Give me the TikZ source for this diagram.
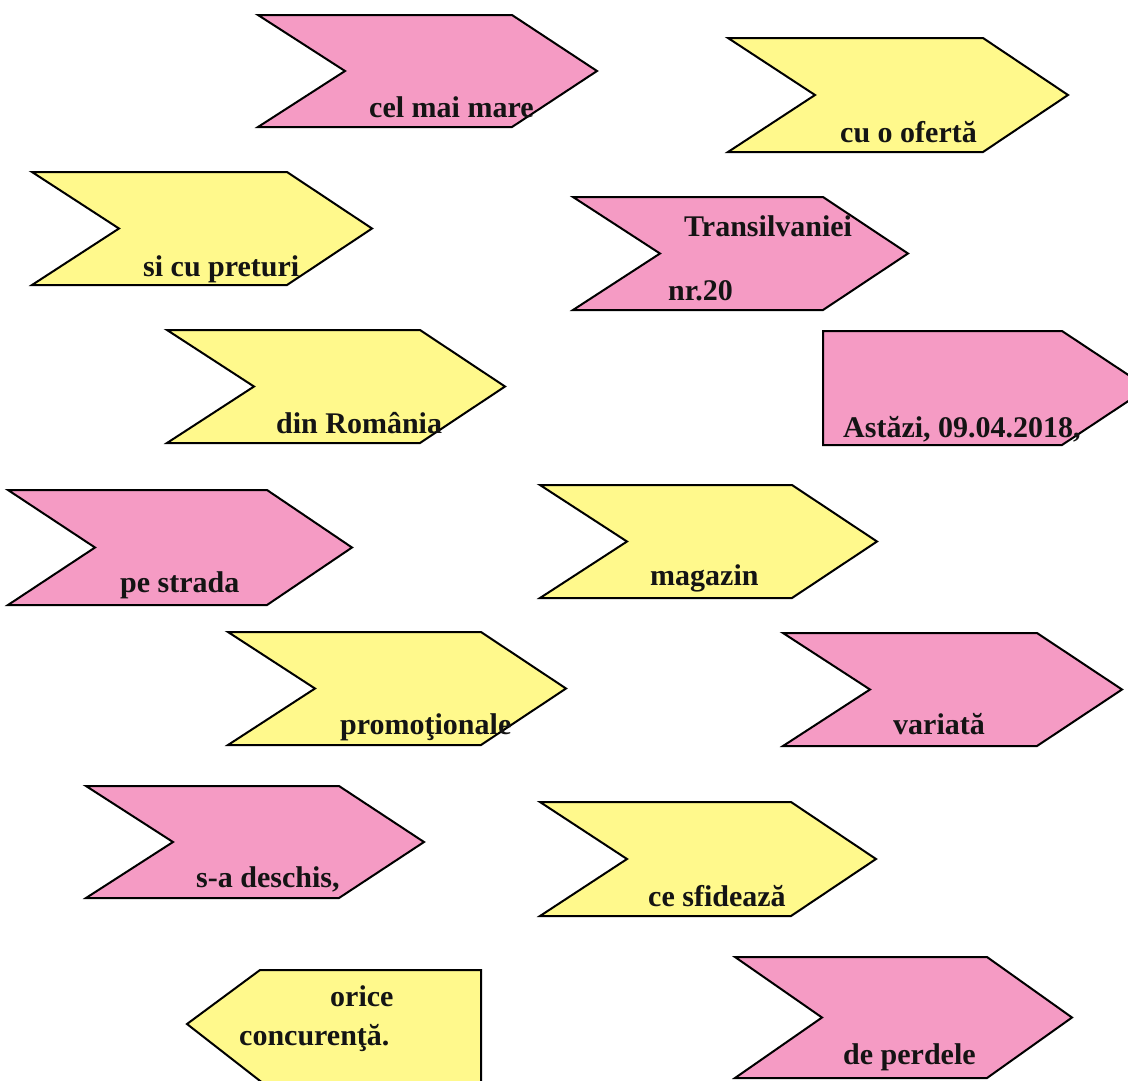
\documentclass[tikz,border=0pt]{standalone}
\usepackage{fontspec}
\setmainfont{Liberation Serif}
\definecolor{pinkc}{RGB}{245,155,196}
\definecolor{yelc}{RGB}{255,249,140}
\tikzset{
  shp/.style={draw=black,line width=2pt,line join=miter},
  lbl/.style={font=\bfseries\fontsize{30}{35}\selectfont, anchor=base west, inner sep=0pt, text=black!92}
}
% chevron: x1 y1 x2 y2 colour
\newcommand\chevshape[5]{\path[shp,fill=#5] (#1,#2) -- ({#3-85},#2) -- (#3,{(#2+#4)/2}) -- ({#3-85},#4) -- (#1,#4) -- ({#1+87},{(#2+#4)/2}) -- cycle;}
\begin{document}
\begin{tikzpicture}[x=1pt,y=-1pt]
\useasboundingbox (0,0) rectangle (1128,1080);
\fill[white] (0,0) rectangle (1128,1080);
\clip (0,0) rectangle (1128,1080);
% shapes
\chevshape{258}{15}{597}{127}{pinkc}
\chevshape{728}{38}{1068}{152}{yelc}
\chevshape{32}{172}{372}{285}{yelc}
\chevshape{573}{197}{908}{310}{pinkc}
\chevshape{167}{330}{505}{443}{yelc}
\path[shp,fill=pinkc] (823,331) -- (1062,331) -- (1148,388) -- (1062,445) -- (823,445) -- cycle;
\chevshape{8}{490}{352}{605}{pinkc}
\chevshape{540}{485}{877}{598}{yelc}
\chevshape{228}{632}{566}{745}{yelc}
\chevshape{783}{633}{1122}{746}{pinkc}
\chevshape{86}{786}{424}{898}{pinkc}
\chevshape{540}{802}{876}{916}{yelc}
\path[shp,fill=yelc] (187,1024) -- (260,970) -- (481,970) -- (481,1084) -- (264,1084) -- cycle;
\chevshape{735}{957}{1072}{1078}{pinkc}
% labels
\node[lbl] (t1) at (369,117) {cel mai mare};
\node[lbl] (t2) at (840,142) {cu o ofertă};
\node[lbl] (t3) at (143,276) {si cu preturi};
\node[lbl] (t4a) at (684,236) {Transilvaniei};
\node[lbl] (t4b) at (668,300) {nr.20};
\node[lbl] (t5) at (276,433) {din România};
\node[lbl] (t6) at (843,437) {Astăzi, 09.04.2018,};
\node[lbl] (t7) at (120,592) {pe strada};
\node[lbl] (t8) at (650,585) {magazin};
\node[lbl] (t9) at (340,734) {promoţionale};
\node[lbl] (t10) at (893,734) {variată};
\node[lbl] (t11) at (196,887) {s-a deschis,};
\node[lbl] (t12) at (648,906) {ce sfidează};
\node[lbl] (t13a) at (330,1006) {orice};
\node[lbl] (t13b) at (239,1045) {concurenţă.};
\node[lbl] (t14) at (843,1064) {de perdele};
\end{tikzpicture}
\end{document}
